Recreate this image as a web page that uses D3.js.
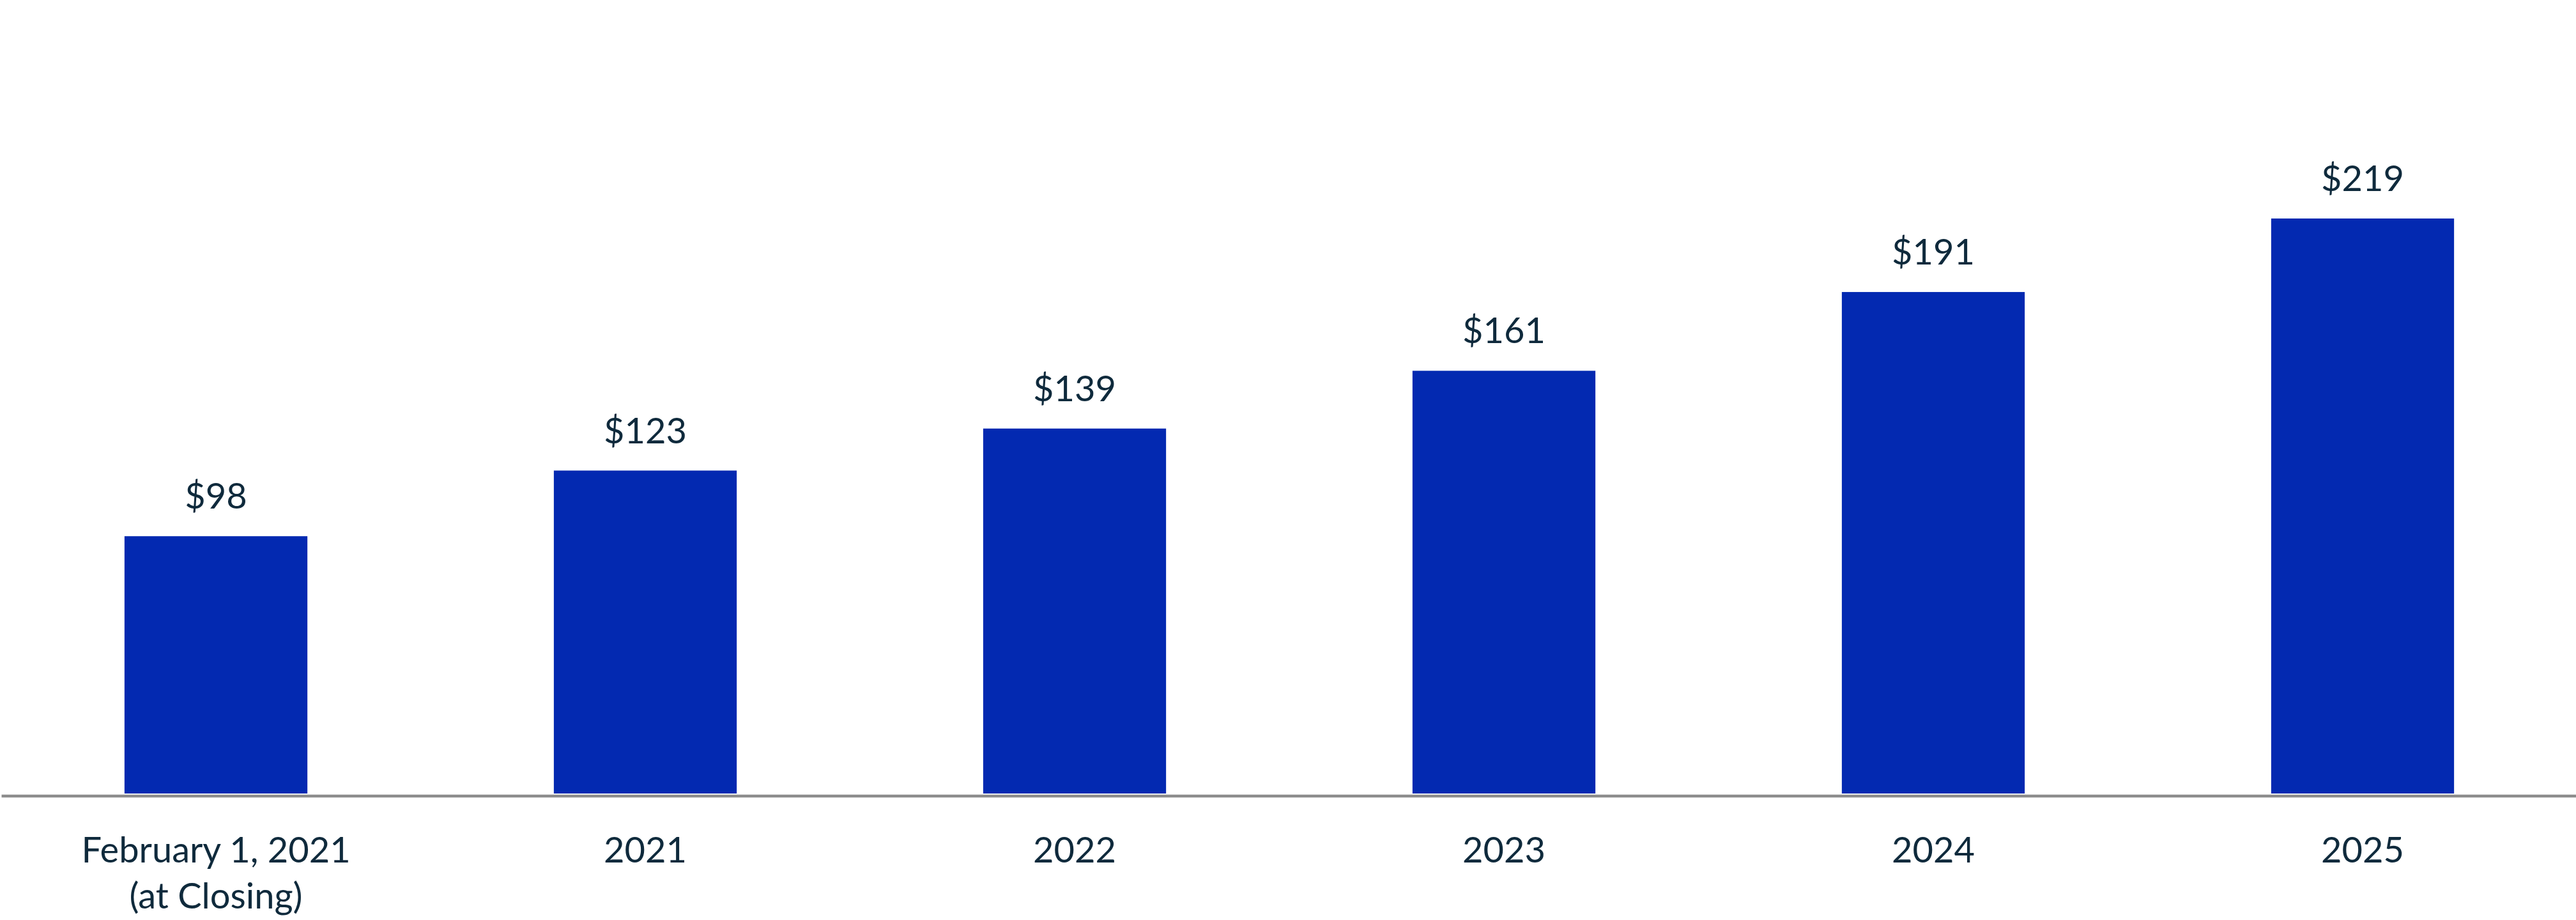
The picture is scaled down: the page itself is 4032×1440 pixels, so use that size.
<!DOCTYPE html>
<html>
<head>
<meta charset="utf-8">
<script src="https://cdn.jsdelivr.net/npm/d3@7"></script>
<style>
  html, body { margin: 0; padding: 0; background: #fff; }
  svg { display: block; }
</style>
</head>
<body>
<svg id="mysvg" width="4032" height="1440"></svg>
<script>
// data
var categories = ["February 1, 2021\n(at Closing)", "2021", "2022", "2023", "2024", "2025"];
var values = [98, 123, 139, 161, 191, 219];

var mydata = [];
for (var i = 0; i < categories.length; i++) {
  mydata.push({x: categories[i], y: values[i]});
}

var svg = d3.select("#mysvg"),
    width = +svg.attr("width"),
    height = +svg.attr("height");

var baseY = 1242;

var x = d3.scaleBand()
    .domain(categories)
    .range([2, width + 2])
    .paddingInner(0.574)
    .paddingOuter(0.287);

var y = d3.scaleLinear()
    .domain([0, 219])
    .range([baseY, 342]);

var textColor = "#0f2a3c";
var fontFam = "Lato, 'Open Sans', sans-serif";

// bars
svg.selectAll(".bar")
  .data(mydata)
  .enter().append("rect")
    .attr("class", "bar")
    .attr("x", function(d) { return x(d.x); })
    .attr("y", function(d) { return y(d.y); })
    .attr("width", x.bandwidth())
    .attr("height", function(d) { return y(0) - y(d.y); })
    .attr("fill", "#0329b1");

// value labels
svg.selectAll(".val")
  .data(mydata)
  .enter().append("text")
    .attr("class", "val")
    .attr("x", function(d) { return x(d.x) + x.bandwidth() / 2; })
    .attr("y", function(d) { return y(d.y) - 43; })
    .attr("text-anchor", "middle")
    .style("font-family", fontFam)
    .style("font-size", "56px")
    .style("fill", textColor)
    .text(function(d) { return "$" + d.y; });

// x axis
var xAxis = svg.append("g")
    .attr("class", "x axis")
    .attr("transform", "translate(0," + (baseY + 3.5) + ")")
    .call(d3.axisBottom(x).tickSize(0).tickSizeOuter(0));

xAxis.select(".domain")
    .attr("stroke", "#8c8c8c")
    .attr("stroke-width", 4.5);

xAxis.selectAll(".tick text")
    .attr("y", 0)
    .attr("dy", 0)
    .style("font-family", fontFam)
    .style("font-size", "56px")
    .style("fill", textColor)
    .each(function(d) {
      var t = d3.select(this);
      var lines = d.split("\n");
      t.text(null);
      lines.forEach(function(line, k) {
        t.append("tspan")
          .attr("x", 0)
          .attr("y", 104.5 + k * 72)
          .text(line);
      });
    });
</script>
</body>
</html>
